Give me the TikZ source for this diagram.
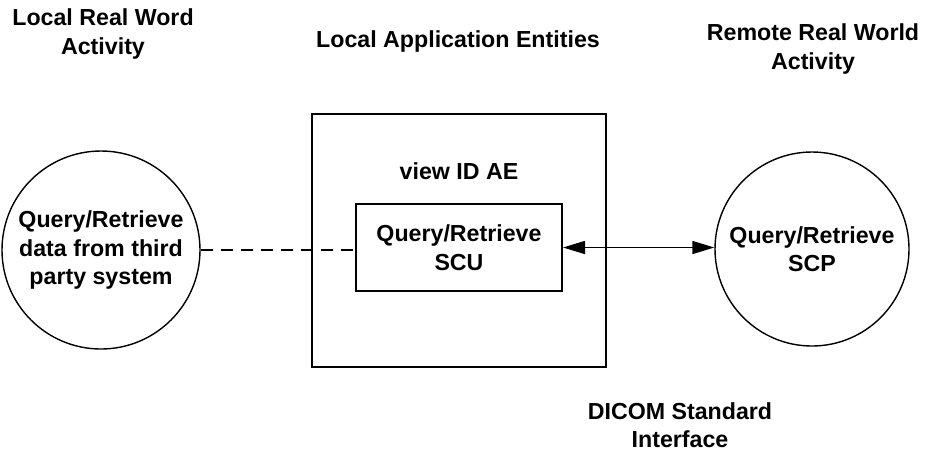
\documentclass[tikz,border=0pt]{standalone}
\usepackage{fontspec}
\setmainfont{Liberation Sans}
\usetikzlibrary{positioning,arrows.meta}

\begin{document}
\begin{tikzpicture}[x=0.5pt, y=-0.5pt,
    every node/.style={font=\fontsize{11.6}{14.3}\selectfont\bfseries, align=center},
    activity/.style={draw, circle, line width=0.7pt, minimum size=97pt, inner sep=0pt},
    entity/.style={draw, rectangle, line width=1pt, inner sep=0pt}]

    \useasboundingbox (0,0) rectangle (925,452);

    % titles
    \node (localtitle) at (103,34) {Local Real Word\\Activity};
    \node (aetitle) at (458,41) {Local Application Entities};
    \node (remotetitle) at (813,49) {Remote Real World\\Activity};
    \node (dicom) at (680,425) {DICOM Standard\\Interface};

    % activities and application entity
    \node[activity, minimum size=99pt] (qr) at (101,250) {Query/Retrieve\\data from third\\party system};
    \node[activity] (scp) at (812,249) {Query/Retrieve\\SCP};
    \node[entity, minimum width=147pt, minimum height=126.5pt] (ae) at (459,240.5) {};
    \node[entity, minimum width=103pt, minimum height=43.5pt] (scu) at (459,247.5) {Query/Retrieve\\SCU};
    \node (aename) at (459,171) {view ID AE};

    \draw[line width=0.6pt, dash pattern=on 6pt off 4pt] (qr.east) -- (qr.east -| scu.west);
    \draw[{Triangle[length=11pt, width=6.5pt]}-{Triangle[length=11pt, width=6.5pt]}, line width=0.8pt]
        (scu.east) -- (scu.east -| scp.west);
\end{tikzpicture}
\end{document}
